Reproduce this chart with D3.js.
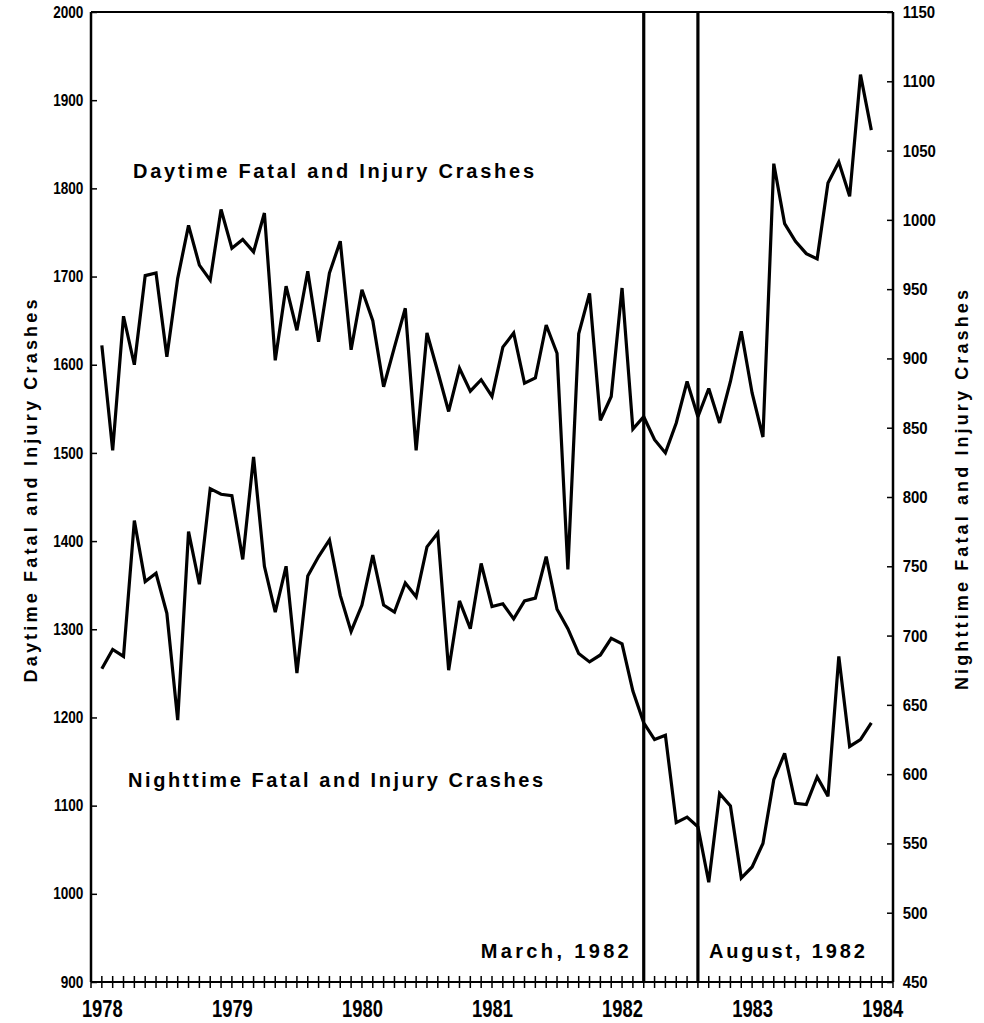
<!DOCTYPE html>
<html>
<head>
<meta charset="utf-8">
<script src="https://cdn.jsdelivr.net/npm/d3@7"></script>
<style>
  html, body { margin: 0; padding: 0; background: #fff; }
  svg { display: block; }
</style>
</head>
<body>
<svg id="chart" width="984" height="1023"></svg>
<script>
// ---- data (monthly, Jan 1978 .. Dec 1983) ----
const yearLabels = ["1978", "1979", "1980", "1981", "1982", "1983", "1984"];
const daytime = [
  1622,1503,1655,1600,1701,1704,1609,1698,1758,1713,1696,1776,
  1732,1742,1728,1772,1605,1689,1639,1706,1626,1704,1740,1617,
  1685,1650,1575,1620,1664,1503,1636,1592,1547,1596,1570,1583,
  1564,1620,1636,1579,1585,1645,1613,1368,1635,1681,1537,1564,
  1687,1527,1541,1515,1500,1534,1581,1541,1573,1534,1581,1638,
  1568,1518,1828,1760,1740,1726,1720,1806,1830,1791,1929,1866
];
const nighttime = [
  676,690,685,783,739,745,716,639,775,737,806,802,
  801,755,829,750,717,750,673,743,757,769,729,703,
  722,758,722,717,738,728,764,774,675,725,705,752,
  721,723,712,725,727,757,719,705,687,681,686,698,
  694,660,637,625,628,565,569,562,522,586,577,525,
  533,550,596,615,579,578,598,584,685,620,625,637
];
const leftTicks = [900,1000,1100,1200,1300,1400,1500,1600,1700,1800,1900,2000];
const rightTicks = [450,500,550,600,650,700,750,800,850,900,950,1000,1050,1100,1150];
const events = [
  { month: 50, label: "March, 1982" },
  { month: 55, label: "August, 1982" }
];
const seriesLabels = ["Daytime Fatal and Injury Crashes", "Nighttime Fatal and Injury Crashes"];
const leftTitle = "Daytime Fatal and Injury Crashes";
const rightTitle = "Nighttime Fatal and Injury Crashes";

// ---- layout ----
const svg = d3.select("#chart");
const L = 91, R = 893, T = 12, B = 982;
const x = d3.scaleLinear().domain([-1, 73]).range([L, R]);
const yL = d3.scaleLinear().domain([900, 2000]).range([B, T]);
const yR = d3.scaleLinear().domain([450, 1150]).range([B, T]);

const txtFont = "'Liberation Sans', Arial, Helvetica, sans-serif";

// frame
svg.append("line").attr("x1", L).attr("x2", R).attr("y1", T).attr("y2", T)
  .attr("stroke", "#000").attr("stroke-width", 2);
svg.append("line").attr("x1", L).attr("x2", L).attr("y1", T).attr("y2", B)
  .attr("stroke", "#000").attr("stroke-width", 2.5);
svg.append("line").attr("x1", R).attr("x2", R).attr("y1", T).attr("y2", B)
  .attr("stroke", "#000").attr("stroke-width", 2.5);

// left axis (ticks inward)
const axL = d3.axisLeft(yL).tickValues(leftTicks).tickSize(-6).tickPadding(0).tickFormat(d3.format("d"));
const gL = svg.append("g").attr("transform", `translate(${L},0)`).call(axL);
gL.select(".domain").remove();
gL.selectAll(".tick line").attr("stroke", "#000").attr("stroke-width", 1.5);
gL.selectAll(".tick text").attr("font-family", txtFont).attr("font-size", 16)
  .attr("fill", "#000").attr("font-weight", "bold")
  .attr("x", -9).attr("transform", "scale(0.85,1)");

// right axis (ticks inward)
const axR = d3.axisRight(yR).tickValues(rightTicks).tickSize(-6).tickPadding(0).tickFormat(d3.format("d"));
const gR = svg.append("g").attr("transform", `translate(${R},0)`).call(axR);
gR.select(".domain").remove();
gR.selectAll(".tick line").attr("stroke", "#000").attr("stroke-width", 1.5);
gR.selectAll(".tick text").attr("font-family", txtFont).attr("font-size", 17)
  .attr("fill", "#000").attr("font-weight", "bold")
  .attr("x", 11).attr("transform", "scale(0.88,1)");

// bottom axis: monthly cross ticks, year labels
const monthTicks = d3.range(-1, 74);
const gB = svg.append("g");
gB.append("line").attr("x1", L).attr("x2", R).attr("y1", B).attr("y2", B)
  .attr("stroke", "#000").attr("stroke-width", 2);
gB.selectAll("line.mt").data(monthTicks).join("line").attr("class", "mt")
  .attr("x1", d => x(d)).attr("x2", d => x(d))
  .attr("y1", B - 6).attr("y2", B + 6)
  .attr("stroke", "#000").attr("stroke-width", 1.5);
const axB = d3.axisBottom(x).tickValues(yearLabels.map((_, i) => i * 12))
  .tickSize(0).tickPadding(0).tickFormat((d, i) => yearLabels[i]);
const gB2 = svg.append("g").attr("transform", `translate(0,${B})`).call(axB);
gB2.select(".domain").remove();
gB2.selectAll(".tick text").attr("font-family", txtFont).attr("font-size", 23)
  .attr("fill", "#000").attr("font-weight", "bold")
  .attr("y", 35).attr("dy", 0).attr("transform", "scale(0.8,1)");

// event lines
svg.selectAll("line.ev").data(events).join("line").attr("class", "ev")
  .attr("x1", d => x(d.month)).attr("x2", d => x(d.month))
  .attr("y1", T).attr("y2", B)
  .attr("stroke", "#000").attr("stroke-width", 3.2);
svg.append("text").attr("x", x(events[0].month) - 15).attr("y", 958)
  .attr("text-anchor", "end").attr("font-family", txtFont).attr("font-size", 20)
  .attr("font-weight", "bold").attr("textLength", 148).attr("lengthAdjust", "spacing")
  .text(events[0].label);
svg.append("text").attr("x", x(events[1].month) + 11).attr("y", 958)
  .attr("text-anchor", "start").attr("font-family", txtFont).attr("font-size", 20)
  .attr("font-weight", "bold").attr("textLength", 156).attr("lengthAdjust", "spacing")
  .text(events[1].label);

// series lines
const lineL = d3.line().x((d, i) => x(i)).y(d => yL(d));
const lineR = d3.line().x((d, i) => x(i)).y(d => yR(d));
svg.append("path").datum(daytime).attr("d", lineL)
  .attr("fill", "none").attr("stroke", "#000").attr("stroke-width", 3.2)
  .attr("stroke-linejoin", "miter").attr("stroke-miterlimit", 3);
svg.append("path").datum(nighttime).attr("d", lineR)
  .attr("fill", "none").attr("stroke", "#000").attr("stroke-width", 3.2)
  .attr("stroke-linejoin", "miter").attr("stroke-miterlimit", 3);

// series labels
svg.append("text").attr("x", 133).attr("y", 178)
  .attr("font-family", txtFont).attr("font-size", 20).attr("font-weight", "bold")
  .attr("textLength", 401).attr("lengthAdjust", "spacing").text(seriesLabels[0]);
svg.append("text").attr("x", 128).attr("y", 787)
  .attr("font-family", txtFont).attr("font-size", 20).attr("font-weight", "bold")
  .attr("textLength", 415).attr("lengthAdjust", "spacing").text(seriesLabels[1]);

// axis titles
svg.append("text").attr("transform", "translate(37,491) rotate(-90)")
  .attr("text-anchor", "middle").attr("font-family", txtFont).attr("font-size", 18)
  .attr("font-weight", "bold").attr("textLength", 383).attr("lengthAdjust", "spacing")
  .text(leftTitle);
svg.append("text").attr("transform", "translate(968,490) rotate(-90)")
  .attr("text-anchor", "middle").attr("font-family", txtFont).attr("font-size", 18)
  .attr("font-weight", "bold").attr("textLength", 400).attr("lengthAdjust", "spacing")
  .text(rightTitle);
</script>
</body>
</html>
